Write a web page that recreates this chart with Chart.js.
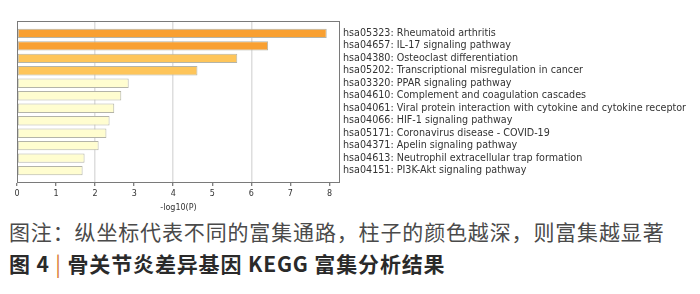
<!DOCTYPE html>
<html>
<head>
<meta charset="utf-8">
<script src="https://cdn.jsdelivr.net/npm/chart.js@4.4.0/dist/chart.umd.min.js"></script>
<style>
  body { margin: 0; width: 700px; height: 294px; background: #fff; position: relative; overflow: hidden; }
  #wrap { position: absolute; left: 0; top: 0; width: 700px; height: 215px; }
  .cap { position: absolute; left: 9px; font-family: "Noto Sans CJK SC", sans-serif; font-size: 21px; line-height: 21px; letter-spacing: 0.85px; white-space: nowrap; }
  #cap1 { top: 221px; color: #4a4a4a; }
  #cap2 { top: 253px; color: #2a2a2a; font-weight: bold; }
  #cap2 .bar { color: #d9782d; font-weight: normal; }
</style>
</head>
<body>
<div id="wrap"><canvas id="keggChart" width="700" height="215"></canvas></div>
<div class="cap" id="cap1">图注：纵坐标代表不同的富集通路，柱子的颜色越深，则富集越显著</div>
<div class="cap" id="cap2">图 4 <span class="bar">|</span> 骨关节炎差异基因 KEGG 富集分析结果</div>

<script>
// KEGG pathways (top to bottom)
const pathways = [
    'hsa05323: Rheumatoid arthritis',
    'hsa04657: IL-17 signaling pathway',
    'hsa04380: Osteoclast differentiation',
    'hsa05202: Transcriptional misregulation in cancer',
    'hsa03320: PPAR signaling pathway',
    'hsa04610: Complement and coagulation cascades',
    'hsa04061: Viral protein interaction with cytokine and cytokine receptor',
    'hsa04066: HIF-1 signaling pathway',
    'hsa05171: Coronavirus disease - COVID-19',
    'hsa04371: Apelin signaling pathway',
    'hsa04613: Neutrophil extracellular trap formation',
    'hsa04151: PI3K-Akt signaling pathway'
];

// -log10(P)
const logP = [7.93, 6.43, 5.64, 4.62, 2.86, 2.67, 2.49, 2.37, 2.29, 2.09, 1.73, 1.68];

// x tick values
const xTicks = [0, 1, 2, 3, 4, 5, 6, 7, 8];

// darker colour = more significant
function barColor(v) {
    if (v > 6) return '#f9a031';
    if (v > 4) return '#fec55a';
    return '#fffdd0';
}

// Draws the box round the plot area
const framePlugin = {
    id: 'plotFrame',
    afterDraw(chart) {
        const a = chart.chartArea;
        const c = chart.ctx;
        c.save();
        c.strokeStyle = '#7a7a7a';
        c.lineWidth = 1;
        c.strokeRect(Math.round(a.left) + 0.5, Math.round(a.top) + 0.5,
            Math.round(a.right - a.left) - 1, Math.round(a.bottom - a.top) - 1);
        c.restore();
    }
};

const ctx = document.getElementById('keggChart').getContext('2d');
new Chart(ctx, {
    type: 'bar',
    data: {
        datasets: [{
            data: logP.map((v, i) => ({ x: v, y: i })),
            backgroundColor: logP.map(barColor),
            borderColor: '#b4b4a8',
            borderWidth: 1,
            borderSkipped: false,
            barPercentage: 0.75,
            categoryPercentage: 1
        }]
    },
    options: {
        indexAxis: 'y',
        responsive: false,
        animation: false,
        layout: { padding: { left: 17, top: 21, right: 0, bottom: 0 } },
        plugins: {
            legend: { display: false },
            tooltip: { enabled: false }
        },
        scales: {
            x: {
                type: 'linear',
                min: 0,
                max: 8.27,
                afterBuildTicks: s => { s.ticks = xTicks.map(v => ({ value: v })); },
                afterFit: s => { s.height = 32; },
                border: { display: false },
                grid: {
                    color: c => [2, 4, 6].includes(c.tick && c.tick.value) ? '#dedede' : 'rgba(0,0,0,0)',
                    lineWidth: 1.5,
                    tickColor: '#555',
                    tickLength: 3,
                    tickWidth: 1
                },
                ticks: {
                    color: '#333',
                    padding: 3,
                    font: { family: 'DejaVu Sans', size: 8 }
                },
                title: {
                    display: true,
                    text: '-log10(P)',
                    color: '#333',
                    padding: { top: 0, bottom: 2 },
                    font: { family: 'DejaVu Sans', size: 8 }
                }
            },
            y: {
                type: 'linear',
                position: 'right',
                reverse: true,
                offset: false,
                min: -0.99,
                max: 11.99,
                afterBuildTicks: s => { s.ticks = pathways.map((p, i) => ({ value: i })); },
                afterFit: s => {
                    s.width = 360;
                    s.paddingTop = 0;
                    s.paddingBottom = 0;
                },
                border: { display: false },
                grid: { display: false, drawTicks: false, offset: false },
                ticks: {
                    autoSkip: false,
                    padding: 3,
                    color: '#333',
                    font: { family: 'DejaVu Sans', size: 9.6 },
                    callback: v => pathways[v]
                }
            }
        }
    },
    plugins: [framePlugin]
});
</script>
</body>
</html>
